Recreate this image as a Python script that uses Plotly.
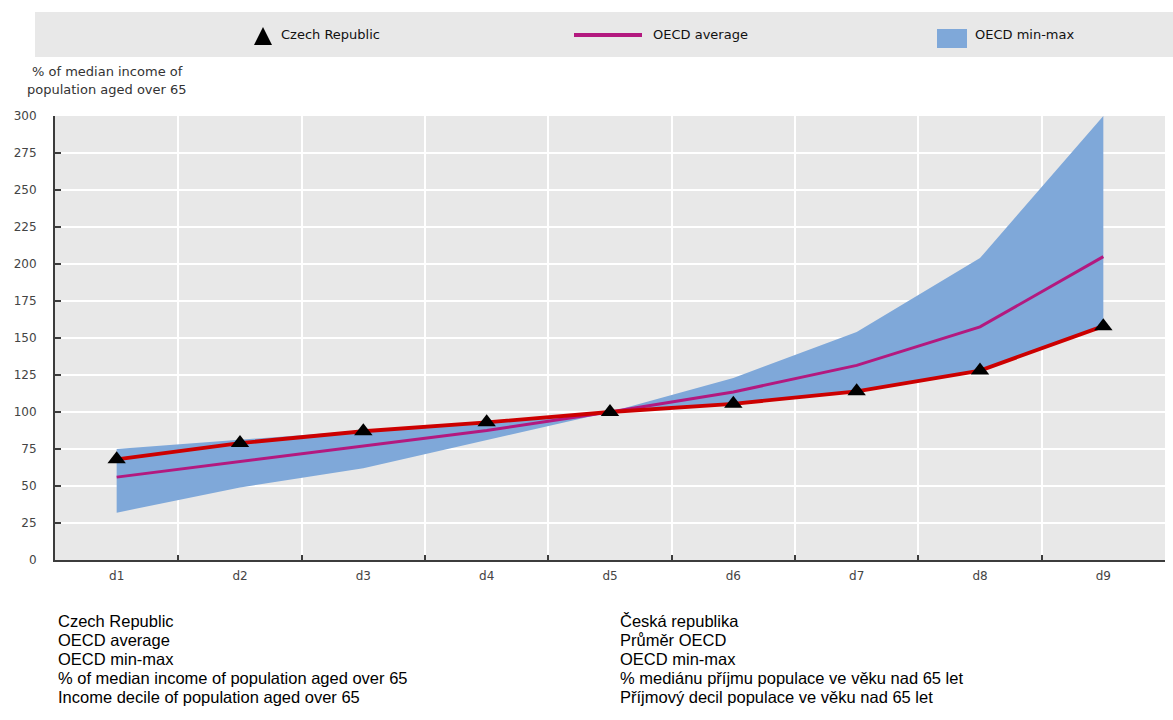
import plotly.graph_objects as go

# Income deciles of the population aged over 65
deciles = ["d1", "d2", "d3", "d4", "d5", "d6", "d7", "d8", "d9"]

# Income at each decile as % of the median income (age 65+)
czech = [68, 79, 87, 93, 100, 105.5, 114, 128, 158]
oecd_avg = [56, 66.5, 77, 87.5, 100, 113.5, 131.5, 157.5, 205]
oecd_min = [32, 49, 62, 81, 100, 105, 113.5, 127.5, 159]
oecd_max = [75, 81.5, 87.5, 93.5, 100, 123, 154, 204, 300]

y_ticks = [0, 25, 50, 75, 100, 125, 150, 175, 200, 225, 250, 275, 300]

legend_labels = ["Czech Republic", "OECD average", "OECD min-max"]
y_title_lines = ["% of median income of", "population aged over 65"]

notes_en = [
    "Czech Republic",
    "OECD average",
    "OECD min-max",
    "% of median income of population aged over 65",
    "Income decile of population aged over 65",
]
notes_cs = [
    "Česká republika",
    "Průměr OECD",
    "OECD min-max",
    "% mediánu příjmu populace ve věku nad 65 let",
    "Příjmový decil populace ve věku nad 65 let",
]

RED = "#cc0000"
MAGENTA = "#b3197f"
BAND = "#7fa8d9"
PANEL = "#e8e8e8"
AXIS = "#3c3c3c"

W, H = 1173, 720
ML, MR, MT, MB = 55, 8, 116, 160
PW = W - ML - MR
PH = H - MT - MB


def fx(p):
    """Horizontal pixel position -> paper coordinate."""
    return (p - ML) / PW


def fy(p):
    """Vertical pixel position (from top) -> paper coordinate."""
    return (H - MB - p) / PH


fig = go.Figure()

# OECD min-max band
fig.add_trace(go.Scatter(
    x=deciles, y=oecd_min, mode="lines", line=dict(width=0, color=BAND),
    hoverinfo="skip", showlegend=False,
))
fig.add_trace(go.Scatter(
    x=deciles, y=oecd_max, mode="lines", line=dict(width=0, color=BAND),
    fill="tonexty", fillcolor=BAND, name=legend_labels[2],
))

# OECD average
fig.add_trace(go.Scatter(
    x=deciles, y=oecd_avg, mode="lines",
    line=dict(color=MAGENTA, width=3), name=legend_labels[1],
))

# Czech Republic line and markers
fig.add_trace(go.Scatter(
    x=deciles, y=czech, mode="lines",
    line=dict(color=RED, width=3.8), hoverinfo="skip", showlegend=False,
))
fig.add_trace(go.Scatter(
    x=deciles, y=czech, mode="markers",
    marker=dict(symbol="triangle-up", size=16, color="black"),
    name=legend_labels[0], cliponaxis=False,
))

shapes = []
annotations = []

# Legend strip
shapes.append(dict(type="rect", xref="paper", yref="paper",
                   x0=fx(35), x1=fx(W), y0=fy(57), y1=fy(12),
                   fillcolor=PANEL, line=dict(width=0), layer="below"))
tri = "M{},{} L{},{} L{},{} Z".format(fx(254), fy(45), fx(272), fy(45), fx(263), fy(27))
shapes.append(dict(type="path", xref="paper", yref="paper", path=tri,
                   fillcolor="black", line=dict(width=0)))
shapes.append(dict(type="line", xref="paper", yref="paper",
                   x0=fx(574), x1=fx(642), y0=fy(35), y1=fy(35),
                   line=dict(color=MAGENTA, width=4)))
shapes.append(dict(type="rect", xref="paper", yref="paper",
                   x0=fx(937), x1=fx(967), y0=fy(48), y1=fy(29),
                   fillcolor=BAND, line=dict(width=0)))

legend_font = dict(family="DejaVu Sans", size=13, color="#111111")
for label, px in zip(legend_labels, [279, 651, 973]):
    annotations.append(dict(xref="paper", yref="paper", x=fx(px), y=fy(34),
                            xanchor="left", yanchor="middle", showarrow=False,
                            text=label, font=legend_font))

# Y axis title (two lines)
for line, py in zip(y_title_lines, [71, 90]):
    annotations.append(dict(xref="paper", yref="paper", x=fx(107), y=fy(py),
                            xanchor="center", yanchor="middle", showarrow=False,
                            text=line,
                            font=dict(family="DejaVu Sans", size=13, color="#333333")))

# Bilingual notes under the chart
note_font = dict(family="Liberation Sans, Arial", size=16.5, color="black")
for i, (en, cs) in enumerate(zip(notes_en, notes_cs)):
    py = 621 + 19 * i
    annotations.append(dict(xref="paper", yref="paper", x=fx(56), y=fy(py),
                            xanchor="left", yanchor="middle", showarrow=False,
                            text=en, font=note_font))
    annotations.append(dict(xref="paper", yref="paper", x=fx(618), y=fy(py),
                            xanchor="left", yanchor="middle", showarrow=False,
                            text=cs, font=note_font))

fig.update_layout(
    width=W, height=H,
    margin=dict(l=ML, r=MR, t=MT, b=MB),
    paper_bgcolor="white",
    plot_bgcolor=PANEL,
    showlegend=False,
    font=dict(family="DejaVu Sans", size=12, color="#444444"),
    shapes=shapes,
    annotations=annotations,
)

fig.update_xaxes(
    type="category", range=[-0.5, 8.5], tickson="boundaries",
    showgrid=True, gridcolor="white", gridwidth=1.5,
    ticks="inside", ticklen=5, tickwidth=1.5, tickcolor=AXIS,
    showline=True, linecolor=AXIS, linewidth=2,
    tickfont=dict(family="DejaVu Sans", size=12, color="#444444"),
    ticklabelstandoff=4, zeroline=False,
)
fig.update_yaxes(
    range=[0, 300], tickvals=y_ticks,
    showgrid=True, gridcolor="white", gridwidth=2,
    ticks="inside", ticklen=6, tickwidth=1.5, tickcolor=AXIS,
    showline=True, linecolor=AXIS, linewidth=2,
    tickfont=dict(family="DejaVu Sans", size=12, color="#444444"),
    ticklabelstandoff=14, zeroline=False,
)

fig.write_html("out.html")
